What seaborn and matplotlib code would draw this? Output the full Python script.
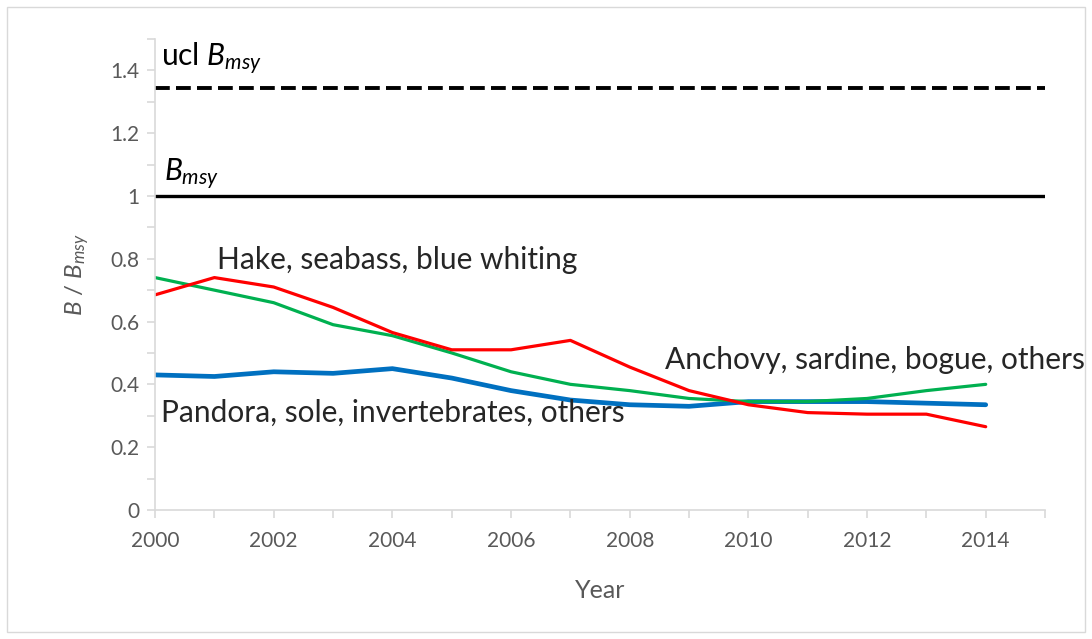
import pandas as pd
import seaborn as sns
import matplotlib.pyplot as plt
from matplotlib.patches import Rectangle

# data
years = list(range(2000, 2015))
hake = [0.685, 0.74, 0.71, 0.645, 0.565, 0.51, 0.51, 0.54, 0.455, 0.38, 0.335, 0.31, 0.305, 0.305, 0.265]
anchovy = [0.74, 0.70, 0.66, 0.59, 0.555, 0.50, 0.44, 0.40, 0.38, 0.355, 0.345, 0.345, 0.355, 0.38, 0.40]
pandora = [0.43, 0.425, 0.44, 0.435, 0.45, 0.42, 0.38, 0.35, 0.335, 0.33, 0.345, 0.345, 0.345, 0.34, 0.335]
bmsy = 1.0
ucl_bmsy = 1.345

df = pd.DataFrame({'Year': years, 'hake': hake, 'anchovy': anchovy, 'pandora': pandora})

sns.set_theme(style="white")
plt.rcParams['font.family'] = ['Lato', 'DejaVu Sans']
plt.rcParams['mathtext.fontset'] = 'custom'
plt.rcParams['mathtext.it'] = 'Lato:italic'
plt.rcParams['mathtext.rm'] = 'Lato'

fig = plt.figure(figsize=(10.92, 6.39), dpi=100)
ax = fig.add_axes([0.142, 0.202, 0.815, 0.737])

# reference lines
ax.axhline(ucl_bmsy, color='black', lw=2.8, ls=(0, (3.8, 1.6)))
ax.axhline(bmsy, color='black', lw=2.4)

sns.lineplot(data=df, x='Year', y='pandora', color='#0070C0', lw=3.4, ax=ax)
sns.lineplot(data=df, x='Year', y='anchovy', color='#00B050', lw=2.3, ax=ax)
sns.lineplot(data=df, x='Year', y='hake', color='#FF0000', lw=2.3, ax=ax)

ax.set_xlim(2000, 2015)
ax.set_ylim(0, 1.5)
ax.set_xticks(range(2000, 2016), minor=True)
ax.set_xticks(range(2000, 2015, 2))
ax.set_yticks([i / 10 for i in range(0, 16)], minor=True)
ax.set_yticks([0, 0.2, 0.4, 0.6, 0.8, 1.0, 1.2, 1.4])
ax.set_yticklabels(['0', '0.2', '0.4', '0.6', '0.8', '1', '1.2', '1.4'])

for s in ['top', 'right']:
    ax.spines[s].set_visible(False)
for s in ['left', 'bottom']:
    ax.spines[s].set_color('#d9d9d9')
    ax.spines[s].set_linewidth(1.2)
ax.tick_params(which='both', direction='out', color='#d9d9d9', width=1.2, length=6,
               labelcolor='#595959', labelsize=15)
ax.tick_params(axis='y', which='both', left=True, pad=5)
ax.tick_params(axis='x', which='both', bottom=True, pad=9)

ax.set_xlabel('Year', fontsize=18, color='#595959', labelpad=20)
ax.set_ylabel(r'$B$ / $B_{msy}$', fontsize=17.5, color='#595959', labelpad=14)

# annotations
fs = 21.5
ax.text(2000.1, 1.38, r'ucl $B_{msy}$', fontsize=fs, color='black', va='bottom')
ax.text(2000.15, 1.012, r'$B_{msy}$', fontsize=fs, color='black', va='bottom')
ax.text(2001.05, 0.795, 'Hake, seabass, blue whiting', fontsize=fs, va='center')
ax.text(2000.1, 0.31, 'Pandora, sole, invertebrates, others', fontsize=fs, va='center')
ax.text(2008.6, 0.478, 'Anchovy, sardine, bogue, others', fontsize=fs, va='center')

# outer chart border
fig.patches.append(Rectangle((7 / 1092, 7 / 639), 1078 / 1092, 625 / 639,
                             transform=fig.transFigure, fill=False,
                             edgecolor='#d9d9d9', lw=1.0))

plt.savefig('out.png', dpi=100)
